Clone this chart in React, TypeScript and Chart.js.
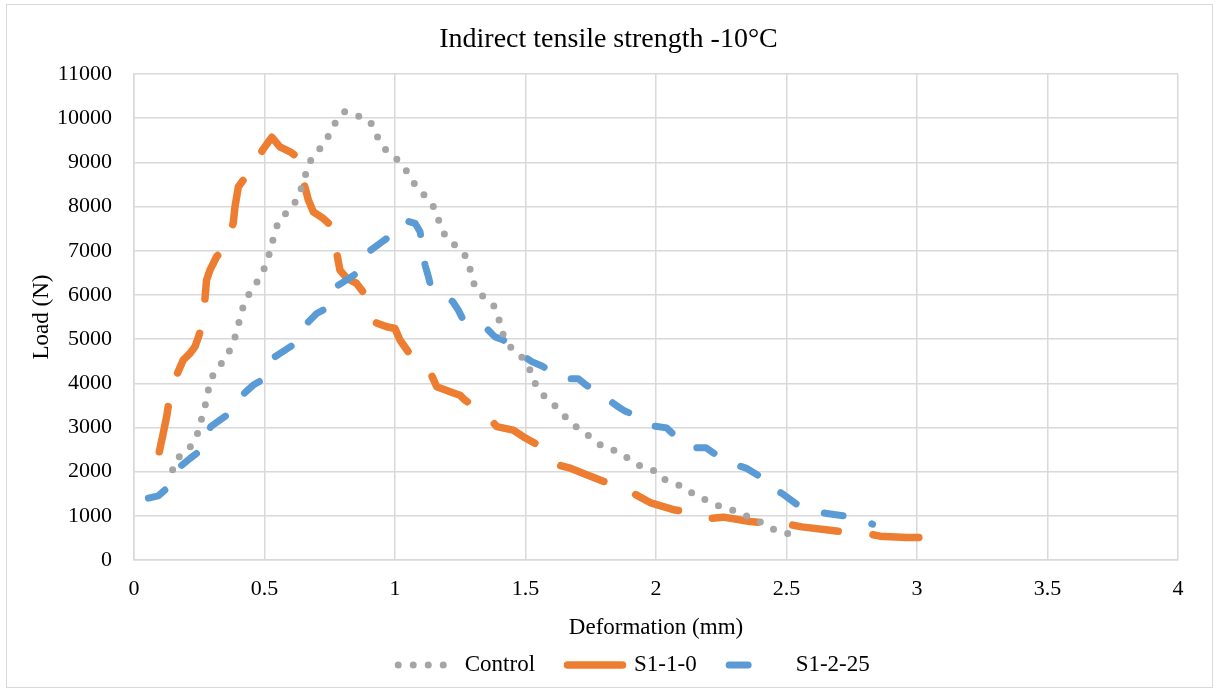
import React, { useEffect, useRef } from 'react';
import { Chart, registerables } from 'chart.js';

Chart.register(...registerables);

// ---- Data ----
const controlX = [0.148, 0.166, 0.212, 0.240, 0.255, 0.271, 0.282, 0.294, 0.324, 0.358, 0.382, 0.398, 0.411, 0.429, 0.460, 0.492, 0.511, 0.528, 0.538, 0.559, 0.598, 0.632, 0.648, 0.664, 0.683, 0.723, 0.751, 0.777, 0.808, 0.859, 0.904, 0.926, 0.951, 0.993, 1.028, 1.057, 1.087, 1.128, 1.156, 1.172, 1.195, 1.239, 1.275, 1.290, 1.304, 1.338, 1.379, 1.398, 1.412, 1.441, 1.479, 1.511, 1.530, 1.558, 1.596, 1.635, 1.668, 1.713, 1.757, 1.798, 1.849, 1.894, 1.939, 1.987, 2.015, 2.063, 2.111, 2.152, 2.200, 2.245, 2.296, 2.338, 2.383, 2.424, 2.466, 2.516];
const controlY = [2040, 2300, 2530, 2790, 3115, 3450, 3770, 4100, 4360, 4640, 4940, 5270, 5600, 5910, 6190, 6490, 6790, 7110, 7430, 7710, 7940, 8220, 8560, 8840, 9140, 9370, 9660, 9960, 10150, 10050, 9940, 9660, 9360, 9140, 8960, 8680, 8400, 8170, 7920, 7600, 7300, 7080, 6850, 6530, 6220, 5960, 5750, 5450, 5130, 4830, 4640, 4410, 4070, 3790, 3580, 3370, 3130, 2930, 2750, 2550, 2470, 2300, 2130, 2050, 1870, 1750, 1640, 1450, 1340, 1210, 1120, 1020, 905, 790, 640, 590];

const s110X = [0.097, 0.112, 0.125, 0.135, 0.166, 0.189, 0.215, 0.234, 0.247, 0.259, 0.272, 0.278, 0.291, 0.317, 0.340, 0.380, 0.387, 0.400, 0.419, 0.438, 0.495, 0.528, 0.559, 0.598, 0.636, 0.651, 0.668, 0.687, 0.725, 0.760, 0.777, 0.789, 0.815, 0.853, 0.889, 0.927, 0.968, 1.000, 1.019, 1.057, 1.134, 1.160, 1.211, 1.249, 1.268, 1.351, 1.390, 1.453, 1.491, 1.581, 1.626, 1.670, 1.722, 1.817, 1.856, 1.913, 1.977, 2.073, 2.156, 2.207, 2.258, 2.360, 2.424, 2.501, 2.558, 2.660, 2.743, 2.807, 2.858, 2.960, 3.062];
const s110Y = [2450, 2870, 3240, 3620, 4220, 4530, 4680, 4830, 5050, 5270, 5920, 6340, 6560, 6870, 7000, 7620, 8000, 8450, 8600, 8730, 9300, 9570, 9350, 9240, 9080, 8530, 8150, 7880, 7730, 7540, 6940, 6560, 6380, 6260, 5980, 5370, 5280, 5240, 4980, 4660, 4260, 3920, 3810, 3730, 3620, 3280, 3020, 2940, 2790, 2490, 2150, 2080, 1960, 1740, 1580, 1510, 1300, 1130, 1060, 940, 970, 870, 840, 815, 750, 680, 620, 600, 540, 510, 510];

const s1225X = [0.055, 0.093, 0.125, 0.135, 0.180, 0.215, 0.253, 0.294, 0.330, 0.365, 0.425, 0.457, 0.489, 0.540, 0.579, 0.617, 0.668, 0.700, 0.738, 0.783, 0.815, 0.853, 0.904, 0.943, 0.978, 1.042, 1.077, 1.096, 1.099, 1.115, 1.128, 1.137, 1.221, 1.242, 1.262, 1.351, 1.383, 1.415, 1.485, 1.524, 1.563, 1.651, 1.703, 1.732, 1.811, 1.849, 1.881, 1.964, 1.996, 2.041, 2.105, 2.143, 2.192, 2.264, 2.309, 2.345, 2.421, 2.443, 2.482, 2.558, 2.603, 2.648, 2.743, 2.788, 2.830];
const s1225Y = [1400, 1450, 1620, 1700, 2130, 2300, 2470, 3020, 3170, 3320, 3790, 3960, 4070, 4600, 4750, 4900, 5390, 5580, 5700, 6220, 6340, 6490, 7000, 7170, 7320, 7680, 7620, 7430, 7320, 6680, 6410, 6190, 5850, 5660, 5430, 5240, 5050, 4980, 4640, 4490, 4390, 4100, 4100, 3960, 3660, 3490, 3370, 3170, 3030, 2990, 2620, 2540, 2540, 2240, 2150, 2080, 1810, 1620, 1510, 1180, 1120, 1060, 980, 890, 810];

const seriesNames = ['Control', 'S1-1-0', 'S1-2-25'];
const chartTitle = 'Indirect tensile strength -10°C';
const xTitle = 'Deformation (mm)';
const yTitle = 'Load (N)';

// ---- Styles ----
const FONT = '"Liberation Serif", "Times New Roman", serif';
const GRID = '#d9d9d9';
const colors = ['#a5a5a5', '#ed7d31', '#5b9bd5'];
const widths = [7, 7.5, 7];
const dashes = [[0, 15], [46, 35], [19, 30]];
const legendDashes = [[0, 15], [], [19, 60]];
const legendOffsets = [0, 0, 0];
const drawOrder = [0, 2, 1];
const LEGEND_SHIFT = -22;

const toPoints = (xs: number[], ys: number[]) => xs.map((x, i) => ({ x, y: ys[i] }));

const legendShift = {
  id: 'legendShift',
  afterLayout(chart: any) {
    const lg = chart.legend;
    if (lg) {
      lg.left += LEGEND_SHIFT;
      lg.right += LEGEND_SHIFT;
    }
  },
};

export default function App() {
  const ref = useRef<HTMLCanvasElement>(null);

  useEffect(() => {
    const canvas = ref.current;
    if (!canvas) return;
    const sets = [toPoints(controlX, controlY), toPoints(s110X, s110Y), toPoints(s1225X, s1225Y)];
    const chart = new Chart(canvas, {
      type: 'line',
      data: {
        datasets: sets.map((d, i) => ({
          label: seriesNames[i],
          data: d,
          borderColor: colors[i],
          backgroundColor: colors[i],
          borderWidth: widths[i],
          borderDash: dashes[i],
          borderCapStyle: 'round',
          borderJoinStyle: 'round',
          pointRadius: 0,
          pointHoverRadius: 0,
          tension: 0,
          fill: false,
          order: drawOrder[i],
        })),
      },
      plugins: [legendShift],
      options: {
        responsive: false,
        animation: false,
        devicePixelRatio: 1,
        events: [],
        layout: { padding: { left: 39, right: 39, top: 0, bottom: 4.5 } },
        plugins: {
          title: {
            display: true,
            text: chartTitle,
            color: '#000',
            font: { family: FONT, size: 28, weight: 'normal' },
            padding: { top: 22.5, bottom: 17.9 },
          },
          legend: {
            position: 'bottom',
            fullSize: false,
            labels: {
              usePointStyle: true,
              pointStyleWidth: 55,
              padding: 32.5,
              color: '#000',
              font: { family: FONT, size: 23 },
              sort: (a: any, b: any) => a.datasetIndex - b.datasetIndex,
              generateLabels: (c: any) => {
                const items = Chart.defaults.plugins.legend.labels.generateLabels(c);
                items.forEach((it: any) => {
                  const i = it.datasetIndex;
                  it.pointStyle = 'line';
                  it.lineDash = legendDashes[i];
                  it.lineDashOffset = legendOffsets[i];
                  it.lineCap = 'round';
                });
                return items;
              },
            },
          },
          tooltip: { enabled: false },
        },
        scales: {
          x: {
            type: 'linear',
            min: 0,
            max: 4,
            ticks: {
              stepSize: 0.5,
              padding: 16,
              color: '#000',
              font: { family: FONT, size: 22 },
              callback: (v: any) => String(v),
            },
            grid: { color: GRID, lineWidth: 1.5, drawTicks: false },
            border: { color: GRID, width: 1.5 },
            title: {
              display: true,
              text: xTitle,
              color: '#000',
              font: { family: FONT, size: 23 },
              padding: { top: 0, bottom: -21 },
            },
            afterFit: (s: any) => { s.height = 61; },
          },
          y: {
            type: 'linear',
            min: 0,
            max: 11000,
            ticks: {
              stepSize: 1000,
              padding: 22,
              color: '#000',
              font: { family: FONT, size: 22 },
              callback: (v: any) => String(v),
            },
            grid: { color: GRID, lineWidth: 1.5, drawTicks: false },
            border: { color: GRID, width: 1.5 },
            title: {
              display: true,
              text: yTitle,
              color: '#000',
              font: { family: FONT, size: 23 },
              padding: { top: -11, bottom: 0 },
            },
            afterFit: (s: any) => { s.width = 95; },
          },
        },
      },
    } as any);
    return () => chart.destroy();
  }, []);

  return (
    <div style={{ position: 'fixed', left: 0, top: 0, width: 1217, height: 691, overflow: 'hidden', background: '#fff' }}>
      <canvas ref={ref} width={1217} height={691} style={{ display: 'block', width: 1217, height: 691 }} />
      <div style={{ position: 'absolute', left: 6, top: 4, width: 1205, height: 682, border: '1px solid #d9d9d9', pointerEvents: 'none' }} />
    </div>
  );
}
